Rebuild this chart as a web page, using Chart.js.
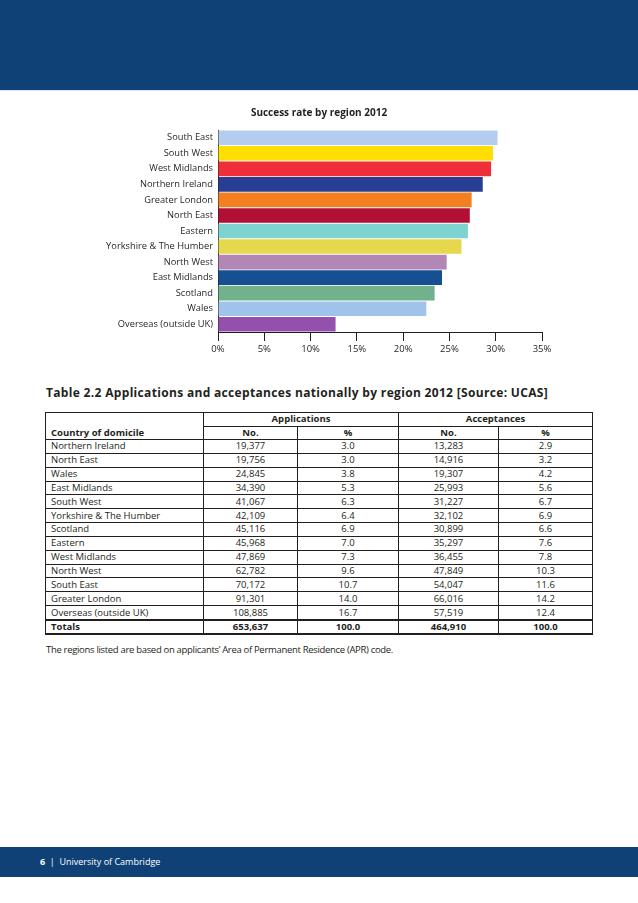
<!DOCTYPE html>
<html>
<head>
<meta charset="utf-8">
<script src="https://cdn.jsdelivr.net/npm/chart.js@4.4.1/dist/chart.umd.min.js"></script>
<style>
  html, body { margin: 0; padding: 0; background: #ffffff; }
  body { width: 638px; height: 903px; position: relative; overflow: hidden; font-family: 'Open Sans', sans-serif; color: #231f20; }
  #header { position: absolute; left: 0; top: 0; width: 638px; height: 90px; background: #0f4177; }
  #headerLine { position: absolute; left: 0; top: 90px; width: 638px; height: 1px; background: #dbe6f2; }
  #chartBox { position: absolute; left: 0; top: 95px; width: 638px; height: 270px; }
  #tableTitle { position: absolute; left: 46px; top: 384px; font-size: 12px; font-weight: 700; white-space: nowrap; line-height: 18px; }
  #dataTable { position: absolute; left: 45px; top: 412px; width: 547px; border-collapse: collapse; table-layout: fixed; font-size: 9.5px; }
  #dataTable td { padding: 0 5px; line-height: 12px; white-space: nowrap; overflow: visible; border-left: 1px solid #231f20; border-right: 1px solid #231f20; }
  #dataTable td.c { text-align: center; padding: 0; }
  #dataTable tr.h1 td { height: 12.5px; border-top: 1px solid #231f20; font-weight: 700; }
  #dataTable tr.h1 td.grp { border-bottom: 1px solid #231f20; }
  #dataTable tr.h2 td { height: 12.5px; font-weight: 700; border-bottom: 1px solid #231f20; }
  #dataTable tr.d td { height: 12.85px; border-bottom: 1px solid #231f20; }
  #dataTable tr.last td { border-bottom: 2px solid #231f20; }
  #dataTable tr.tot td { height: 12px; font-weight: 700; border-bottom: 2px solid #231f20; }
  #footnote { position: absolute; left: 46px; top: 642px; font-size: 9.5px; white-space: nowrap; line-height: 16px; }
  #footer { position: absolute; left: 0; top: 847px; width: 638px; height: 30px; background: #0f4177; }
  #footerText { position: absolute; left: 40px; top: 854px; color: #ffffff; font-size: 9px; line-height: 16px; white-space: nowrap; }
</style>
</head>
<body>
<div id="header"></div>
<div id="headerLine"></div>
<div id="chartBox"><canvas id="chart" width="638" height="270" style="width:638px;height:270px"></canvas></div>
<div id="tableTitle">Table 2.2 Applications and acceptances nationally by region 2012 [Source: UCAS]</div>
<table id="dataTable">
  <colgroup><col style="width:158px"><col style="width:94px"><col style="width:101px"><col style="width:100px"><col style="width:94px"></colgroup>
  <tbody id="tbody"></tbody>
</table>
<div id="footnote">The regions listed are based on applicants’ Area of Permanent Residence (APR) code.</div>
<div id="footer"></div>
<div id="footerText"><b>6</b>&nbsp; |&nbsp; University of Cambridge</div>

<script>
// ---- Chart data ----
const regions = ['South East', 'South West', 'West Midlands', 'Northern Ireland', 'Greater London', 'North East', 'Eastern', 'Yorkshire & The Humber', 'North West', 'East Midlands', 'Scotland', 'Wales', 'Overseas (outside UK)'];
const successRate = [30.2, 29.7, 29.5, 28.6, 27.4, 27.2, 27.0, 26.3, 24.7, 24.2, 23.4, 22.5, 12.7];
const barColours = ['#b4cdee', '#ffde00', '#ee2e38', '#273e92', '#f47f20', '#b20f34', '#7dd3cf', '#e5d84c', '#b286b5', '#164f92', '#71b18c', '#a0c3eb', '#9450ad'];
const xTickValues = [0, 5, 10, 15, 20, 25, 30, 35];

// ---- Table data ----
const tableRegions = ['Northern Ireland', 'North East', 'Wales', 'East Midlands', 'South West', 'Yorkshire & The Humber', 'Scotland', 'Eastern', 'West Midlands', 'North West', 'South East', 'Greater London', 'Overseas (outside UK)'];
const applicationsNo = [19377, 19756, 24845, 34390, 41067, 42109, 45116, 45968, 47869, 62782, 70172, 91301, 108885];
const applicationsPct = [3.0, 3.0, 3.8, 5.3, 6.3, 6.4, 6.9, 7.0, 7.3, 9.6, 10.7, 14.0, 16.7];
const acceptancesNo = [13283, 14916, 19307, 25993, 31227, 32102, 30899, 35297, 36455, 47849, 54047, 66016, 57519];
const acceptancesPct = [2.9, 3.2, 4.2, 5.6, 6.7, 6.9, 6.6, 7.6, 7.8, 10.3, 11.6, 14.2, 12.4];
const totals = [653637, 100.0, 464910, 100.0];

function fmtNo(v) { return v.toLocaleString('en-GB'); }
function fmtPct(v) { return v.toFixed(1); }

// Build table
(function buildTable() {
  const tb = document.getElementById('tbody');
  let html = '';
  html += '<tr class="h1"><td></td><td class="c grp" colspan="2">Applications</td><td class="c grp" colspan="2">Acceptances</td></tr>';
  html += '<tr class="h2"><td>Country of domicile</td><td class="c">No.</td><td class="c">%</td><td class="c">No.</td><td class="c">%</td></tr>';
  tableRegions.forEach((r, i) => {
    const cls = i === tableRegions.length - 1 ? 'd last' : 'd';
    html += '<tr class="' + cls + '"><td>' + r.replace('&', '&amp;') + '</td><td class="c">' + fmtNo(applicationsNo[i]) + '</td><td class="c">' + fmtPct(applicationsPct[i]) + '</td><td class="c">' + fmtNo(acceptancesNo[i]) + '</td><td class="c">' + fmtPct(acceptancesPct[i]) + '</td></tr>';
  });
  html += '<tr class="tot"><td>Totals</td><td class="c">' + fmtNo(totals[0]) + '</td><td class="c">' + fmtPct(totals[1]) + '</td><td class="c">' + fmtNo(totals[2]) + '</td><td class="c">' + fmtPct(totals[3]) + '</td></tr>';
  tb.innerHTML = html;
})();

// Fit a text element to a target width via letter-spacing
function fitWidth(id, target) {
  const el = document.getElementById(id);
  const w = el.getBoundingClientRect().width;
  const n = el.textContent.length;
  if (n > 1) el.style.letterSpacing = ((target - w) / n).toFixed(3) + 'px';
}
fitWidth('tableTitle', 502);
fitWidth('footnote', 347);

Chart.defaults.font.family = "'Open Sans', sans-serif";
Chart.defaults.color = '#231f20';

new Chart(document.getElementById('chart'), {
  type: 'bar',
  data: {
    labels: regions,
    datasets: [{
      data: successRate,
      backgroundColor: barColours,
      borderWidth: 0,
      barPercentage: 0.94,
      categoryPercentage: 1.0
    }]
  },
  options: {
    indexAxis: 'y',
    responsive: false,
    animation: false,
    devicePixelRatio: 1,
    layout: { padding: 0 },
    plugins: {
      legend: { display: false },
      tooltip: { enabled: false },
      title: {
        display: true,
        text: 'Success rate by region 2012',
        color: '#231f20',
        font: { size: 10, weight: 'bold', lineHeight: 1.2 },
        padding: { top: 12, bottom: 11 }
      }
    },
    scales: {
      x: {
        min: 0,
        max: 35,
        afterBuildTicks: (scale) => { scale.ticks = xTickValues.map(v => ({ value: v })); },
        ticks: { callback: (v) => v + '%', font: { size: 9.5 }, padding: 3, maxRotation: 0 },
        grid: { display: true, drawOnChartArea: false, drawTicks: true, tickLength: 9, color: '#231f20', lineWidth: 1 },
        border: { display: true, color: '#231f20', width: 1 },
        afterFit: (scale) => { scale.height = 33; scale.paddingLeft = 0; scale.paddingRight = 96; }
      },
      y: {
        ticks: { font: { size: 9.3 }, padding: 5, autoSkip: false },
        grid: { display: false, drawTicks: false },
        border: { display: true, color: '#231f20', width: 1 },
        afterFit: (scale) => { scale.width = 218; scale.paddingTop = 0; scale.paddingBottom = 0; }
      }
    }
  }
});
</script>
</body>
</html>
